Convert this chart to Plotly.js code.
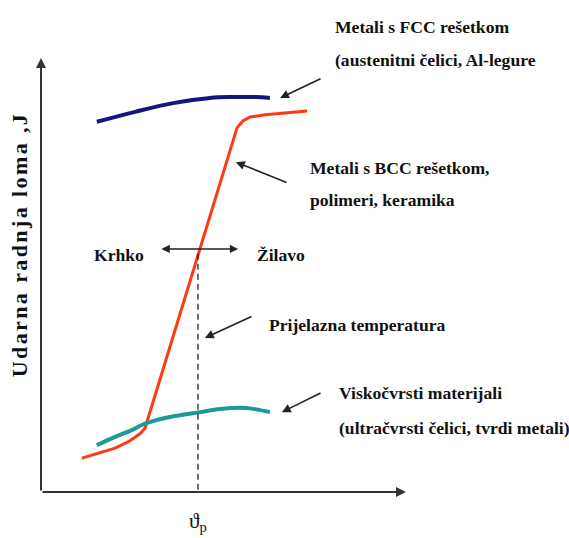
<!DOCTYPE html>
<html>
<head>
<meta charset="utf-8">
<script src="https://cdn.plot.ly/plotly-3.0.1.min.js"></script>
<style>
html,body{margin:0;padding:0;background:#fff}
#chart{width:569px;height:538px}
g.annotation[data-index="17"] text{letter-spacing:2.4px}
</style>
</head>
<body>
<div id="chart"></div>
<script>
// Schematic data (arbitrary units: temperature on x, impact energy on y)
const fccX = [15.3, 25.8, 36.2, 46.3, 52.6, 58.6, 62.7];
const fccY = [85.3, 87.6, 89.6, 90.8, 91.0, 91.0, 90.8];

const bccX = [11.2, 16.2, 20.3, 24.4, 27.1, 28.5, 53.7, 55.3, 57.3, 61.4, 66.8, 72.9];
const bccY = [7.8, 9.0, 10.1, 11.8, 13.4, 14.7, 83.9, 85.5, 86.4, 86.9, 87.3, 87.8];

const hsX = [15.3, 20.3, 24.4, 29.0, 35.3, 43.6, 49.0, 54.5, 58.6, 62.7];
const hsY = [10.8, 12.7, 14.1, 15.9, 17.3, 18.4, 19.1, 19.4, 19.1, 18.4];

const transitionT = 43.0;
const transitionLineY = [0.5, 55.8];

const yTitle = "Udarna radnja loma ,J";
const xTickLabel = "ϑ<sub>p</sub>";
const labelBrittle = "Krhko";
const labelDuctile = "Žilavo";
const fccLines = ["Metali s FCC rešetkom", "(austenitni čelici, Al-legure"];
const bccLines = ["Metali s BCC rešetkom,", "polimeri, keramika"];
const transLabel = "Prijelazna temperatura";
const hsLines = ["Viskočvrsti materijali", "(ultračvrsti čelici, tvrdi metali)"];

const font = {family: "Liberation Serif, Times New Roman, serif", size: 17.6, color: "#111", weight: 700};

const traces = [
  {x: fccX, y: fccY, mode: "lines", line: {color: "#15157e", width: 4, shape: "spline"}, hoverinfo: "skip"},
  {x: bccX, y: bccY, mode: "lines", line: {color: "#ff3a12", width: 3, shape: "linear"}, hoverinfo: "skip"},
  {x: hsX, y: hsY, mode: "lines", line: {color: "#1a9a98", width: 4, shape: "spline"}, hoverinfo: "skip"},
  {x: [transitionT, transitionT], y: transitionLineY, mode: "lines", line: {color: "#111", width: 1.2, dash: "6px,4px"}, hoverinfo: "skip"}
];

function arrow(hx, hy, tx, ty, extra) {
  return Object.assign({x: hx, y: hy, ax: tx, ay: ty, xref: "x", yref: "y", axref: "x", ayref: "y",
    text: "", showarrow: true, arrowhead: 2, arrowsize: 1.1, arrowwidth: 1.6, arrowcolor: "#222"}, extra || {});
}
function label(txt, x, y, extra) {
  return Object.assign({x: x, y: y, xref: "x", yref: "y", text: txt, showarrow: false,
    xanchor: "left", yanchor: "middle", font: font}, extra || {});
}

const annotations = [
  // axes
  arrow(0, 100, 0, 0, {arrowwidth: 2, arrowcolor: "#333", arrowsize: 1}),
  arrow(100, 0, 0, 0, {arrowwidth: 2, arrowcolor: "#333", arrowsize: 1}),
  // double arrow brittle/ductile
  arrow(54.0, 56.0, 32.6, 56.0, {arrowside: "end+start", arrowwidth: 1.5}),
  // pointer arrows
  arrow(65.5, 90.8, 77.0, 95.4),
  arrow(53.4, 76.0, 67.7, 71.2),
  arrow(44.9, 35.5, 58.1, 40.6),
  arrow(66.0, 18.4, 77.0, 23.0),
  // labels
  label(fccLines[0], 80.0, 107.1),
  label(fccLines[1], 80.0, 99.5),
  label(bccLines[0], 73.2, 74.7),
  label(bccLines[1], 73.2, 67.3),
  label(transLabel, 61.9, 38.5),
  label(hsLines[0], 81.1, 22.8),
  label(hsLines[1], 81.1, 14.7),
  label(labelBrittle, 14.0, 54.6),
  label(labelDuctile, 58.6, 54.6),
  label(xTickLabel, 43.0, -6.9, {xanchor: "center", font: {family: "Liberation Serif, serif", size: 21, color: "#111"}}),
  label(yTitle, -5.9, 57.0, {xanchor: "center", textangle: -90, font: Object.assign({}, font, {size: 22})})
];

const layout = {
  width: 569, height: 538,
  margin: {l: 0, r: 0, t: 0, b: 0},
  paper_bgcolor: "#fff", plot_bgcolor: "#fff",
  showlegend: false,
  xaxis: {range: [-11.233, 144.658], visible: false, fixedrange: true},
  yaxis: {range: [-10.599, 113.364], visible: false, fixedrange: true},
  annotations: annotations
};

Plotly.newPlot("chart", traces, layout, {staticPlot: true, displayModeBar: false});
</script>
</body>
</html>
